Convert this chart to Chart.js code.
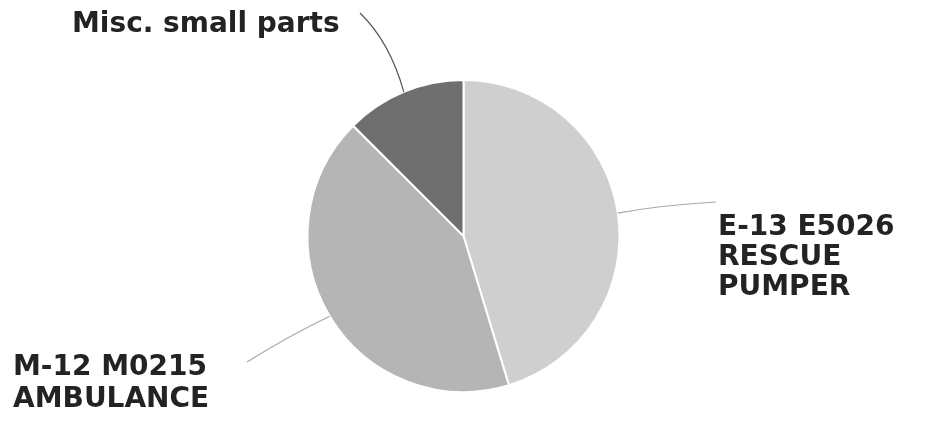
<!DOCTYPE html>
<html>
<head>
<meta charset="utf-8">
<script src="https://cdn.jsdelivr.net/npm/chart.js@4/dist/chart.umd.min.js"></script>
<style>
  html, body { margin: 0; padding: 0; background: #ffffff; }
  #wrap { width: 930px; height: 423px; position: relative; }
</style>
</head>
<body>
<div id="wrap"><canvas id="pasta"></canvas></div>
<script>
const kategoriler = ['E-13 E5026 RESCUE PUMPER', 'M-12 M0215 AMBULANCE', 'Misc. small parts'];
const degerler = [45.3, 42.2, 12.5];
const renkler = ['#cfcfcf', '#b5b5b5', '#6f6f6f'];

// label text as shown beside each slice (line breaks as in the picture)
const etiketSatirlari = [
    ['E-13 E5026', 'RESCUE', 'PUMPER'],
    ['M-12 M0215', 'AMBULANCE'],
    ['Misc. small parts']
];

// where each label sits and where its leader line ends
const etiketYerleri = [
    { x: 718, y: 235, satir: 30, ucX: 716, ucY: 202, cizgi: '#a8a8a8' },
    { x: 13, y: 375, satir: 32, ucX: 247, ucY: 362, cizgi: '#a8a8a8' },
    { x: 72, y: 32, satir: 30, ucX: 360, ucY: 13, cizgi: '#555555', egri: true }
];

const etiketEklentisi = {
    id: 'etiketler',
    afterDatasetsDraw(chart) {
        const ctx = chart.ctx;
        const yaylar = chart.getDatasetMeta(0).data;
        ctx.save();
        yaylar.forEach(function(yay, i) {
            const yer = etiketYerleri[i];
            const orta = (yay.startAngle + yay.endAngle) / 2;
            const bx = yay.x + Math.cos(orta) * yay.outerRadius;
            const by = yay.y + Math.sin(orta) * yay.outerRadius;
            ctx.strokeStyle = yer.cizgi;
            ctx.lineWidth = 1.2;
            ctx.beginPath();
            ctx.moveTo(bx, by);
            if (yer.egri) {
                ctx.quadraticCurveTo(bx - 14, by - 50, yer.ucX, yer.ucY);
            } else {
                ctx.quadraticCurveTo((bx + yer.ucX) / 2, (by + yer.ucY) / 2 - 3, yer.ucX, yer.ucY);
            }
            ctx.stroke();

            ctx.fillStyle = '#232323';
            ctx.font = 'bold 28px "DejaVu Sans"';
            ctx.textAlign = 'left';
            ctx.textBaseline = 'alphabetic';
            etiketSatirlari[i].forEach(function(satir, j) {
                ctx.fillText(satir, yer.x, yer.y + j * yer.satir);
            });
        });
        ctx.restore();
    }
};

const config = {
    type: 'pie',
    data: {
        labels: kategoriler,
        datasets: [{
            data: degerler,
            backgroundColor: renkler,
            borderColor: '#ffffff',
            borderWidth: 2
        }]
    },
    options: {
        responsive: false,
        animation: false,
        radius: 156,
        layout: {
            padding: { top: 80, bottom: 31, left: 0, right: 3 }
        },
        plugins: {
            legend: { display: false },
            tooltip: { enabled: false }
        }
    },
    plugins: [etiketEklentisi]
};

const tuval = document.getElementById('pasta');
tuval.width = 930;
tuval.height = 423;
new Chart(tuval.getContext('2d'), config);
</script>
</body>
</html>
